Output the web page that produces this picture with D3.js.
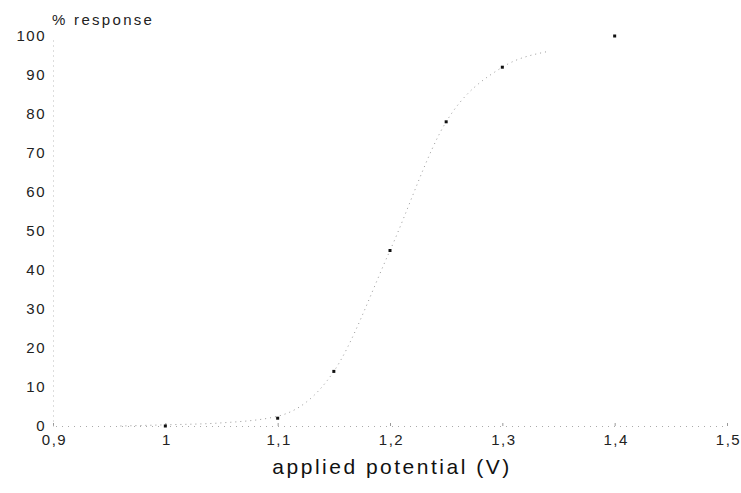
<!DOCTYPE html>
<html>
<head>
<meta charset="utf-8">
<script src="https://cdn.jsdelivr.net/npm/d3@7"></script>
<style>
	body { margin: 0; background: #fff; }
	svg { font-family: "Liberation Sans", Arial, sans-serif; }
</style>
</head>
<body>
<div id="chart"></div>
<script>
// measured points
var potentials = [1.0, 1.1, 1.15, 1.2, 1.25, 1.3, 1.4];
var responses = [0, 2, 14, 45, 78, 92, 100];

// hand-drawn trend curve
var curveX = [0.96, 1.0, 1.05, 1.1, 1.15, 1.2, 1.25, 1.3, 1.34];
var curveY = [0, 0.3, 0.8, 2.5, 14, 45, 78, 92, 96];

var xTicks = [0.9, 1.0, 1.1, 1.2, 1.3, 1.4, 1.5];
var yTicks = [0, 10, 20, 30, 40, 50, 60, 70, 80, 90, 100];

var width = 741, height = 493;
var margins = {top: 36, right: 14, bottom: 67, left: 53};

var svg = d3.select("#chart").append("svg")
	.attr("width", width)
	.attr("height", height);

var x = d3.scaleLinear()
	.domain([0.9, 1.5])
	.range([margins.left, width - margins.right]);
var y = d3.scaleLinear()
	.domain([0, 100])
	.range([height - margins.bottom, margins.top]);

var fmt = function(d){ return d3.format("~g")(d).replace(".", ","); };

// x axis (faint dotted)
var xAxis = svg.append("g")
	.attr("transform", "translate(0," + y(0) + ")")
	.call(d3.axisBottom(x).tickValues(xTicks).tickFormat(fmt).tickSize(-3).tickPadding(8));
xAxis.select(".domain")
	.attr("stroke", "#aaa")
	.attr("stroke-dasharray", "1,5");
xAxis.selectAll(".tick line").attr("stroke", "#999");
xAxis.selectAll(".tick text")
	.attr("font-size", "15px")
	.attr("fill", "#222")
	.attr("dx", "1px")
	.style("letter-spacing", "1.5px");

// y axis
var yAxis = svg.append("g")
	.attr("transform", "translate(" + x(0.9) + ",0)")
	.call(d3.axisLeft(y).tickValues(yTicks).tickFormat(fmt).tickSize(0).tickPadding(7));
yAxis.select(".domain")
	.attr("stroke", "#bbb")
	.attr("stroke-dasharray", "1,4");
yAxis.selectAll(".tick text")
	.attr("font-size", "15px")
	.attr("fill", "#222")
	.attr("dy", "0.3em")
	.style("letter-spacing", "1.5px");

// trend curve
var line = d3.line()
	.x(function(d){ return x(d[0]); })
	.y(function(d){ return y(d[1]); })
	.curve(d3.curveMonotoneX);

svg.append("path")
	.datum(d3.zip(curveX, curveY))
	.attr("d", line)
	.attr("fill", "none")
	.attr("stroke", "#999")
	.attr("stroke-width", 1)
	.attr("stroke-dasharray", "1,4");

// points
svg.selectAll("rect.pt")
	.data(d3.zip(potentials, responses))
	.enter()
	.append("rect")
	.attr("class", "pt")
	.attr("x", function(d){ return x(d[0]) - 1.5; })
	.attr("y", function(d){ return y(d[1]) - 1.5; })
	.attr("width", 3)
	.attr("height", 3)
	.attr("fill", "#111");

// titles
svg.append("text")
	.attr("x", 52)
	.attr("y", 25)
	.attr("font-size", "15px")
	.attr("fill", "#222")
	.style("letter-spacing", "2.3px")
	.text("% response");

svg.append("text")
	.attr("x", 392)
	.attr("y", 474)
	.attr("text-anchor", "middle")
	.attr("font-size", "21px")
	.attr("fill", "#111")
	.style("letter-spacing", "2.5px")
	.text("applied potential (V)");
</script>
</body>
</html>
